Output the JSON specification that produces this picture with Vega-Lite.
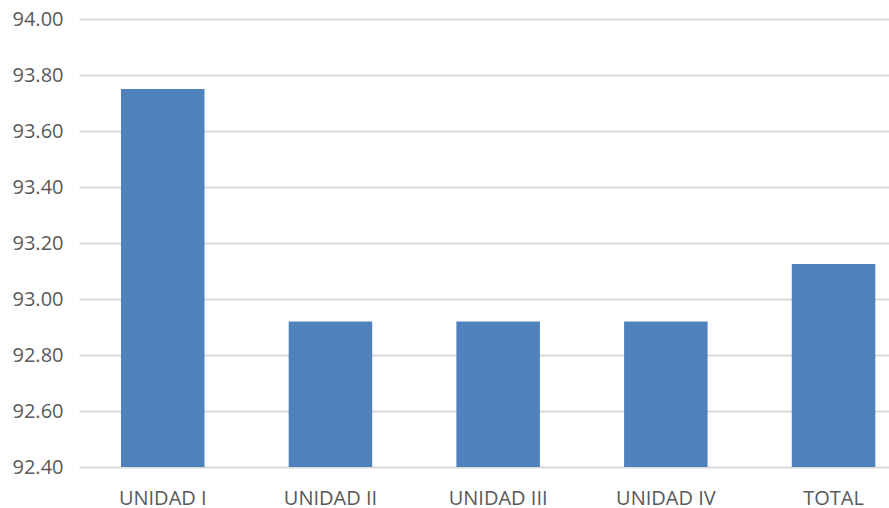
{
  "$schema": "https://vega.github.io/schema/vega-lite/v6.json",
  "autosize": "none",
  "width": 810,
  "height": 448,
  "padding": {"left": 79, "top": 19, "right": 0, "bottom": 41},
  "background": "white",
  "data": {"values": [
    {"unidad": "UNIDAD I", "valor": 93.75},
    {"unidad": "UNIDAD II", "valor": 92.92},
    {"unidad": "UNIDAD III", "valor": 92.92},
    {"unidad": "UNIDAD IV", "valor": 92.92},
    {"unidad": "TOTAL", "valor": 93.125}
  ]},
  "mark": {"type": "bar", "color": "#4f81bd", "clip": true},
  "encoding": {
    "x": {
      "field": "unidad", "type": "nominal", "sort": null, "title": null,
      "scale": {"paddingInner": 0.502, "paddingOuter": 0.166, "align": 0.754},
      "axis": {"domain": false, "ticks": false, "labelAngle": 0, "labelPadding": 21,
        "labelFont": "Open Sans", "labelFontSize": 20, "labelColor": "#595959", "grid": false}
    },
    "y": {
      "field": "valor", "type": "quantitative", "title": null,
      "scale": {"domain": [92.4, 94], "zero": false, "nice": false},
      "axis": {"values": [92.4, 92.6, 92.8, 93.0, 93.2, 93.4, 93.6, 93.8, 94.0], "format": ".2f",
        "domain": false, "ticks": false, "labelPadding": 16,
        "labelFont": "Open Sans", "labelFontSize": 20, "labelColor": "#595959",
        "grid": true, "gridColor": "#d9d9d9", "gridWidth": 2}
    }
  },
  "config": {"view": {"stroke": null}}
}
